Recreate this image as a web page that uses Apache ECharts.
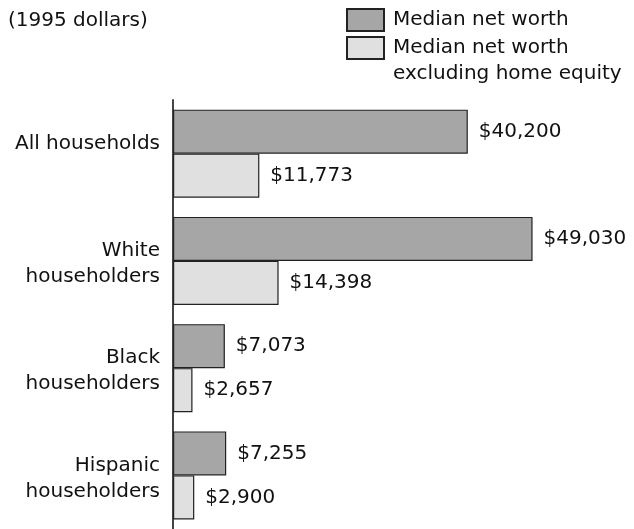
<!DOCTYPE html>
<html>
<head>
<meta charset="utf-8">
<script src="https://cdn.jsdelivr.net/npm/echarts@6/dist/echarts.min.js"></script>
<style>html,body{margin:0;padding:0;background:#fff}#c{width:634px;height:529px}</style>
</head>
<body>
<div id="c"></div>
<script>
const categories = ["All households", "White\nhouseholders", "Black\nhouseholders", "Hispanic\nhouseholders"];
const netWorth = [40200, 49030, 7073, 7255];
const netWorthExHome = [11773, 14398, 2657, 2900];
const seriesNames = ["Median net worth", "Median net worth\nexcluding home equity"];

const FONT = "DejaVu Sans";
const fmt = v => "$" + v.toLocaleString("en-US");
const chart = echarts.init(document.getElementById("c"), null, {renderer: "canvas"});
chart.setOption({
  animation: false,
  backgroundColor: "#fff",
  textStyle: {fontFamily: FONT},
  title: {
    text: "(1995 dollars)", left: 8, top: 11, padding: 0,
    textStyle: {fontFamily: FONT, fontSize: 20, fontWeight: "normal", color: "#111"}
  },
  legend: [
    {
      data: [seriesNames[0]], orient: "vertical", left: 346, top: 7, padding: 0, icon: "rect",
      itemWidth: 37, itemHeight: 22, itemGap: 0, selectedMode: false,
      textStyle: {fontFamily: FONT, fontSize: 20, color: "#111", lineHeight: 26, padding: [0, 0, 0, 4]}
    },
    {
      data: [seriesNames[1]], orient: "vertical", left: 346, top: 9, padding: 0, icon: "rect",
      itemWidth: 37, itemHeight: 22, itemGap: 0, selectedMode: false,
      formatter: n => "\n" + n,
      textStyle: {fontFamily: FONT, fontSize: 20, color: "#111", lineHeight: 26, padding: [0, 0, 0, 4]}
    }
  ],
  grid: {left: 173, right: 21, top: 100, height: 433, containLabel: false},
  xAxis: {type: "value", min: 0, max: 60000, show: false},
  yAxis: {
    type: "category", data: categories, inverse: true,
    axisLine: {show: true, lineStyle: {color: "#444", width: 2}},
    axisTick: {show: false},
    axisLabel: {
      fontFamily: FONT, fontSize: 20, color: "#111", margin: 13, align: "right",
      formatter: v => {
        const lines = v.split("\n");
        if (lines.length < 2) lines.push(" ");
        return "{s| }\n" + lines.map(l => "{a|" + l + "}").join("\n");
      },
      rich: {
        a: {fontFamily: FONT, fontSize: 20, color: "#111", lineHeight: 26, align: "right"},
        s: {fontSize: 1, lineHeight: 6}
      }
    }
  },
  series: [
    {
      name: seriesNames[0], type: "bar", data: netWorth, barWidth: 44, barGap: "0%",
      itemStyle: {color: "#a6a6a6", borderColor: "#222", borderWidth: 1.2},
      label: {show: true, position: "right", distance: 11, fontFamily: FONT, fontSize: 20, color: "#111", formatter: p => fmt(p.value)}
    },
    {
      name: seriesNames[1], type: "bar", data: netWorthExHome, barWidth: 44, barGap: "0%",
      itemStyle: {color: "#e0e0e0", borderColor: "#222", borderWidth: 1.2},
      label: {show: true, position: "right", distance: 11, fontFamily: FONT, fontSize: 20, color: "#111", formatter: p => fmt(p.value)}
    }
  ]
});
</script>
</body>
</html>
